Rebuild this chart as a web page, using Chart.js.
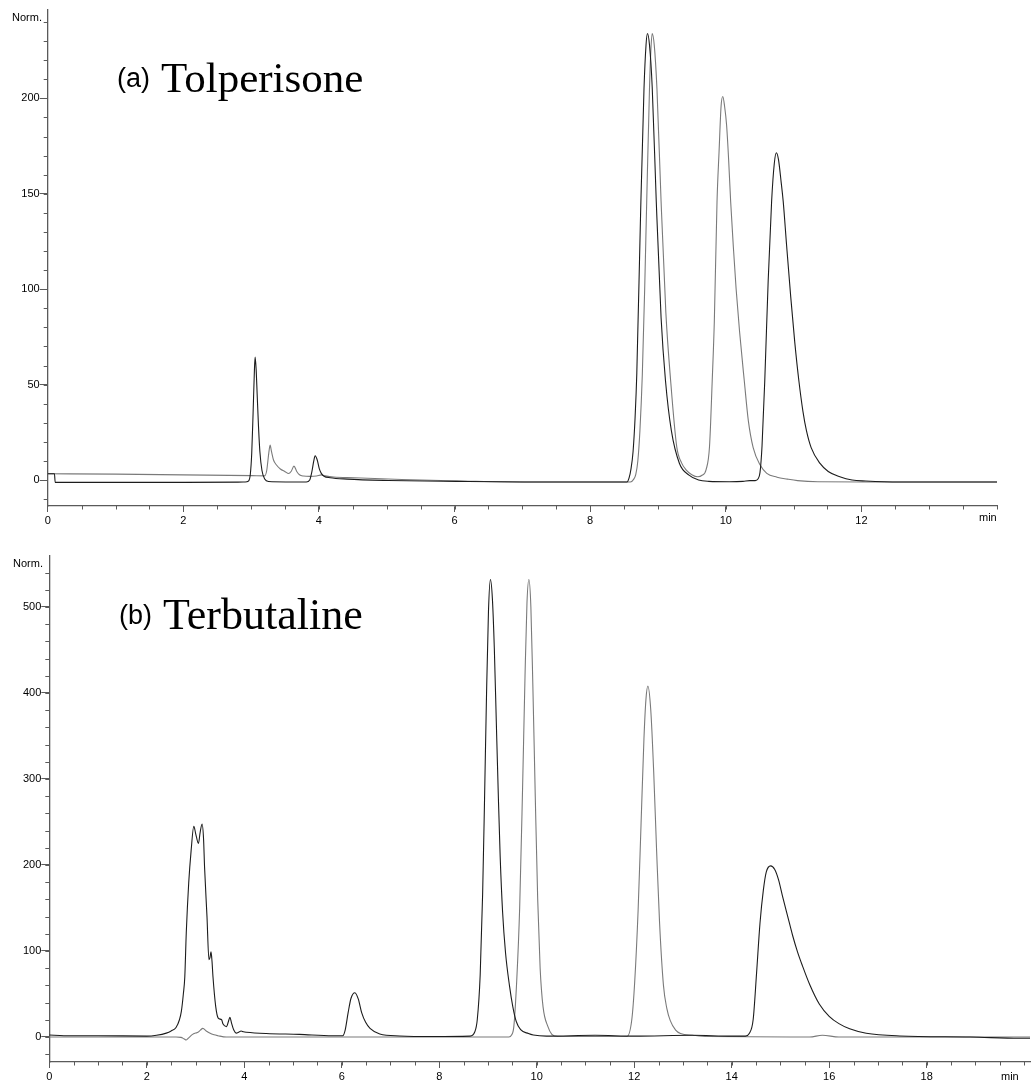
<!DOCTYPE html>
<html>
<head>
<meta charset="utf-8">
<script src="https://cdn.jsdelivr.net/npm/chart.js@4.4.1/dist/chart.umd.min.js"></script>
<style>
  html, body { margin: 0; padding: 0; background: #fff; }
  #wrap { position: relative; width: 1031px; height: 1082px; overflow: hidden;
          font-family: "Liberation Sans", Arial, sans-serif; }
  canvas { position: absolute; left: 0; }
  .lbl { position: absolute; font-size: 11px; line-height: 11px; color: #000; white-space: nowrap; }
  .tag { position: absolute; font-family: "Liberation Sans", Arial, sans-serif; font-size: 27px;
         line-height: 30px; color: #000; white-space: nowrap; }
  .name { position: absolute; font-family: "Liberation Serif", "Times New Roman", serif;
          line-height: 50px; color: #000; white-space: nowrap; }
</style>
</head>
<body>
<div id="wrap">
  <canvas id="tol" width="1031" height="540" style="top:0"></canvas>
  <canvas id="ter" width="1031" height="542" style="top:540px"></canvas>

  <div class="lbl" style="left:0;width:42px;text-align:right;top:12px">Norm.</div>
  <div class="lbl" style="left:979px;top:512px">min</div>
  <div class="tag" style="left:117px;top:63px">(a)</div>
  <div class="name" style="left:161px;top:53px;font-size:43px">Tolperisone</div>

  <div class="lbl" style="left:0;width:43px;text-align:right;top:558px">Norm.</div>
  <div class="lbl" style="left:1001px;top:1071px">min</div>
  <div class="tag" style="left:119px;top:600px">(b)</div>
  <div class="name" style="left:163px;top:590px;font-size:44px">Terbutaline</div>
</div>

<script>
// ---- (a) Tolperisone: two overlaid chromatograms, [time (min), signal (Norm.)] ----
const tolTrace1 = [
  [0,3.3],[0.10,3.3],[0.11,-1.2],[1.0,-1.2],[2.0,-1.2],[2.807,-1.1],[2.908,-1.0],[2.958,-0.6],
  [2.988,3],[3.009,14],[3.029,35],[3.049,58],[3.059,64.4],[3.074,58],[3.089,45],[3.109,28],
  [3.129,15],[3.16,5],[3.2,0.5],[3.26,-0.8],[3.51,-1.0],[3.814,-1.0],[3.864,0],[3.894,4],
  [3.924,10],[3.944,12.7],[3.975,10.5],[4.005,6],[4.035,3.5],[4.075,2],[4.166,1.2],[4.417,0.5],
  [5.02,-0.2],[6.03,-0.7],[7.03,-1.0],[8.04,-1.0],[8.543,-1.0],[8.573,1],[8.603,6],[8.633,15],
  [8.663,33],[8.688,56],[8.744,140],[8.794,205],[8.824,228],[8.845,234],[8.875,228],[8.915,206],
  [8.975,146],[9.046,85],[9.111,52],[9.197,26],[9.317,8.7],[9.458,2.6],[9.599,0],[9.75,-0.7],
  [10.052,-0.9],[10.253,-0.7],[10.354,-0.3],[10.434,-0.3],[10.474,0.5],[10.505,4],[10.535,18],
  [10.575,52],[10.626,105],[10.676,146],[10.716,166],[10.746,171.5],[10.777,168],[10.817,156],
  [10.847,146],[10.897,123],[10.958,96],[11.018,72],[11.078,52],[11.138,36],[11.189,26],
  [11.259,17],[11.39,8.7],[11.511,4.5],[11.682,1.7],[11.863,0],[12.064,-0.5],[12.57,-1.0],[14.0,-1.0]
];
const tolTrace2 = [
  [0,3.3],[1.0,3.1],[2.0,2.7],[3.009,2.3],[3.2,2.2],[3.23,5],[3.26,14],[3.28,18.3],[3.3,15],
  [3.33,10.5],[3.371,8],[3.431,5.8],[3.501,4.4],[3.552,3.4],[3.592,4.6],[3.632,7.3],[3.673,4.5],
  [3.713,2.8],[3.773,2.1],[3.864,1.9],[3.964,2.1],[4.035,2.7],[4.095,2.2],[4.216,1.6],[4.518,1.2],
  [5.222,0.3],[6.228,-0.6],[7.03,-1.0],[8.04,-1.0],[8.593,-1.0],[8.643,0.5],[8.673,3],[8.703,10],
  [8.734,26],[8.769,55],[8.804,100],[8.834,146],[8.875,205],[8.895,225],[8.915,234],[8.945,228],
  [8.985,205],[9.046,146],[9.116,88],[9.187,52],[9.277,17.4],[9.348,9],[9.418,5.2],[9.499,2.8],
  [9.589,1.7],[9.65,2.5],[9.71,5.5],[9.76,17.4],[9.8,52],[9.831,83],[9.871,146],[9.901,172],
  [9.931,196],[9.956,201],[9.982,196],[10.012,186],[10.042,168],[10.072,146],[10.112,122],
  [10.153,100],[10.203,78],[10.273,52],[10.333,31],[10.404,17],[10.505,8],[10.605,3.5],
  [10.756,1.5],[10.907,0.5],[11.058,-0.3],[11.36,-0.9],[12.064,-1.0],[14.0,-1.0]
];
const tolXTicks = [0, 2, 4, 6, 8, 10, 12];
const tolYTicks = [0, 50, 100, 150, 200];

// ---- (b) Terbutaline ----
const terTrace1 = [
  [0,2.3],[0.3,1.5],[1.0,1.5],[2.0,1.0],[2.2,2],[2.4,4.5],[2.5,7],[2.6,11],[2.67,20],[2.71,30],
  [2.75,50],[2.78,70],[2.81,121],[2.86,179],[2.91,217],[2.965,245],[3.005,236],[3.06,225],[3.095,238],
  [3.135,247.7],[3.165,230],[3.185,198],[3.235,140],[3.275,90],[3.295,92],[3.318,99],[3.338,88],
  [3.358,70],[3.415,35],[3.465,22],[3.535,20],[3.565,15],[3.635,12],[3.675,18],[3.705,23],[3.735,17],
  [3.785,8],[3.835,4.5],[3.885,5.5],[3.935,7],[3.985,6],[4.045,5.5],[4.45,4],[5.13,3],[5.81,1.5],
  [6.02,1.5],[6.07,8],[6.13,28],[6.19,45],[6.27,51.5],[6.34,44],[6.41,28],[6.49,17],[6.58,10],
  [6.78,3.5],[7.19,1.2],[7.87,0.5],[8.63,1],[8.73,6],[8.78,20],[8.84,72],[8.89,166],[8.93,278],
  [8.97,398],[9.01,495],[9.05,532],[9.09,510],[9.13,452],[9.17,368],[9.21,285],[9.25,210],
  [9.3,145],[9.36,98],[9.44,60],[9.51,35],[9.58,18],[9.67,8.5],[9.83,4],[9.93,2.3],[10.2,1],
  [11.2,2],[12.0,1],[13.2,2],[14.0,1],[14.28,1],[14.36,4],[14.44,20],[14.51,74],[14.58,132],
  [14.65,171],[14.71,192],[14.8,199],[14.88,195],[14.96,183],[15.05,162],[15.15,140],[15.25,118],
  [15.35,99],[15.45,83],[15.6,61],[15.8,38],[16.0,24],[16.2,15.5],[16.42,9.5],[16.76,4.3],
  [17.45,1.2],[18.9,0],[19.9,-1.5],[20.12,-1.5]
];
const terTrace2 = [
  [0,0],[2.0,0],[2.6,0],[2.7,-0.5],[2.76,-2],[2.81,-3.5],[2.86,-1],[2.94,3],[3.0,4.5],[3.05,5.4],
  [3.1,8],[3.15,10],[3.22,7],[3.29,4.5],[3.38,2.5],[3.46,1.5],[3.63,0],[9.43,0],[9.48,2],[9.53,12],
  [9.59,66],[9.65,150],[9.71,290],[9.76,420],[9.80,505],[9.84,532],[9.88,500],[9.92,410],
  [9.97,280],[10.02,160],[10.07,80],[10.13,35],[10.23,12],[10.31,3],[10.43,0.5],[11.85,0.5],
  [11.95,20],[12.01,64],[12.08,147],[12.14,247],[12.2,347],[12.24,392],[12.28,408],[12.34,380],
  [12.4,308],[12.46,216],[12.52,133],[12.6,60],[12.67,33],[12.74,19],[12.85,8],[12.95,4],
  [13.2,2],[13.5,0.5],[15.6,0],[15.86,2],[16.2,0],[20.12,0]
];
const terXTicks = [0, 2, 4, 6, 8, 10, 12, 14, 16, 18];
const terYTicks = [0, 100, 200, 300, 400, 500];

const DARK = '#1c1c1c';
const GREY = '#7a7a7a';
const AXIS = '#5a5a5a';
const FONT = { family: '"Liberation Sans", Arial, sans-serif', size: 11 };

// short unlabelled ticks between the labelled ones
const minorTicks = {
  id: 'minorTicks',
  afterDraw(chart, args, opts) {
    const { ctx, chartArea } = chart;
    const xs = chart.scales.x, ys = chart.scales.y;
    ctx.save();
    ctx.strokeStyle = AXIS;
    ctx.lineWidth = 1;
    for (let v = opts.xStep; v <= xs.max + 1e-9; v += opts.xStep) {
      const px = Math.round(xs.getPixelForValue(v)) + 0.5;
      ctx.beginPath(); ctx.moveTo(px, chartArea.bottom); ctx.lineTo(px, chartArea.bottom + 3.5); ctx.stroke();
    }
    for (let v = Math.ceil(ys.min / opts.yStep) * opts.yStep; v <= ys.max + 1e-9; v += opts.yStep) {
      const py = Math.round(ys.getPixelForValue(v)) + 0.5;
      ctx.beginPath(); ctx.moveTo(chartArea.left - 4, py); ctx.lineTo(chartArea.left, py); ctx.stroke();
    }
    ctx.restore();
  }
};

function chromatogram(canvasId, cfg) {
  return new Chart(document.getElementById(canvasId), {
    type: 'line',
    data: {
      datasets: cfg.traces.map(tr => ({
        data: tr.points.map(p => ({ x: p[0], y: p[1] })),
        borderColor: tr.color,
        borderWidth: 1.1,
        pointRadius: 0,
        fill: false,
        cubicInterpolationMode: 'monotone',
        order: tr.order
      }))
    },
    options: {
      responsive: false,
      animation: false,
      devicePixelRatio: 1,
      events: [],
      layout: { padding: cfg.padding },
      plugins: { legend: { display: false }, tooltip: { enabled: false }, minorTicks: cfg.minor },
      scales: {
        x: {
          type: 'linear', min: cfg.xMin, max: cfg.xMax,
          afterBuildTicks: s => { s.ticks = cfg.xTicks.map(v => ({ value: v })); },
          afterFit: s => { s.height = cfg.xAxisHeight; },
          ticks: { font: FONT, color: '#000', padding: 2, maxRotation: 0, autoSkip: false,
                   callback: v => String(v) },
          grid: { drawOnChartArea: false, drawTicks: true, tickLength: 6, tickColor: AXIS, tickWidth: 1 },
          border: { display: true, color: AXIS, width: 1.3 }
        },
        y: {
          type: 'linear', min: cfg.yMin, max: cfg.yMax,
          afterBuildTicks: s => { s.ticks = cfg.yTicks.map(v => ({ value: v })); },
          afterFit: s => { s.width = cfg.yAxisWidth; },
          ticks: { font: FONT, color: '#000', padding: 0, autoSkip: false, callback: v => String(v) },
          grid: { drawOnChartArea: false, drawTicks: true, tickLength: 8, tickColor: AXIS, tickWidth: 1 },
          border: { display: true, color: AXIS, width: 1.3 }
        }
      }
    },
    plugins: [minorTicks]
  });
}

chromatogram('tol', {
  traces: [
    { points: tolTrace2, color: GREY, order: 2 },
    { points: tolTrace1, color: DARK, order: 1 }
  ],
  xMin: 0, xMax: 14, yMin: -13.6, yMax: 246.3,
  xTicks: tolXTicks, yTicks: tolYTicks,
  padding: { left: 0, top: 10, right: 34, bottom: 0 },
  yAxisWidth: 47.7, xAxisHeight: 34,
  minor: { xStep: 0.5, yStep: 10 }
});

chromatogram('ter', {
  traces: [
    { points: terTrace2, color: GREY, order: 2 },
    { points: terTrace1, color: DARK, order: 1 }
  ],
  xMin: 0, xMax: 20.12, yMin: -29.1, yMax: 559.3,
  xTicks: terXTicks, yTicks: terYTicks,
  padding: { left: 0, top: 16, right: 1, bottom: 0 },
  yAxisWidth: 49.3, xAxisHeight: 20,
  minor: { xStep: 0.5, yStep: 20 }
});
</script>
</body>
</html>
